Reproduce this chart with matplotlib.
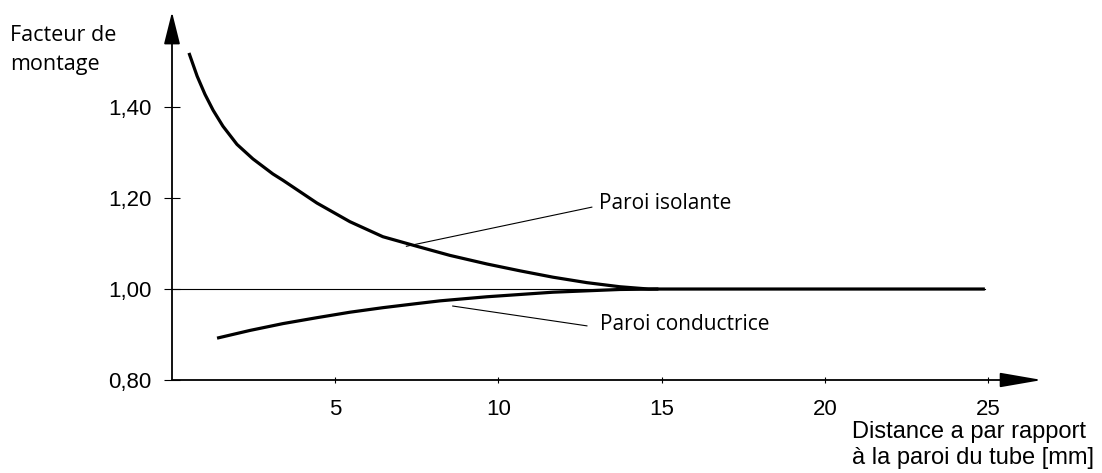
import matplotlib
matplotlib.use('Agg')
import matplotlib.pyplot as plt

# courbe "Paroi isolante"
x_iso = [0.52, 0.77, 1.01, 1.26, 1.56, 1.99, 2.48, 3.09, 3.40, 4.44, 5.45, 6.46, 7.50,
         8.51, 9.65, 10.66, 11.67, 12.71, 13.72, 14.6, 20.0, 24.9]
y_iso = [1.519, 1.468, 1.428, 1.393, 1.358, 1.318, 1.286, 1.253, 1.239, 1.189, 1.148, 1.115, 1.094,
         1.074, 1.055, 1.040, 1.026, 1.014, 1.005, 1.0, 1.0, 1.0]

# courbe "Paroi conductrice"
x_cond = [1.38, 2.39, 3.40, 4.44, 5.45, 6.46, 7.50, 8.21, 9.65, 11.67, 13.72, 14.9]
y_cond = [0.892, 0.909, 0.924, 0.937, 0.949, 0.959, 0.968, 0.974, 0.983, 0.993, 0.999, 1.0]

x_ticks = [5, 10, 15, 20, 25]
y_ticks = [0.80, 1.00, 1.20, 1.40]
y_labels = ['0,80', '1,00', '1,20', '1,40']

label_font = ['Open Sans', 'DejaVu Sans']
num_font = ['Liberation Sans', 'DejaVu Sans']

fig = plt.figure(figsize=(11.02, 4.73), dpi=100)
ax = fig.add_axes([172/1102, 93/473, 870/1102, 368/473])
ax.set_xlim(0, 26.65)
ax.set_ylim(0.8, 1.609)
for s in ax.spines.values():
    s.set_visible(False)

# axes avec fleches
ax.annotate('', xy=(26.65, 0.8), xytext=(0, 0.8),
            arrowprops=dict(arrowstyle='-|>,head_length=2.6,head_width=0.45',
                            lw=1.3, color='k', shrinkA=0, shrinkB=0), annotation_clip=False)
ax.annotate('', xy=(0, 1.609), xytext=(0, 0.8),
            arrowprops=dict(arrowstyle='-|>,head_length=2.0,head_width=0.5',
                            lw=1.3, color='k', shrinkA=0, shrinkB=0), annotation_clip=False)

ax.set_xticks(x_ticks)
ax.set_xticklabels([str(t) for t in x_ticks], family=num_font, fontsize=16)
ax.set_yticks(y_ticks)
ax.set_yticklabels(y_labels, family=num_font, fontsize=16)
ax.tick_params(axis='x', direction='inout', length=5, width=0.8, pad=11)
ax.tick_params(axis='y', direction='inout', length=12, width=0.8, pad=9)

# ligne de reference 1,00
ax.plot([0, 24.9], [1.0, 1.0], color='k', lw=0.8)

ax.plot(x_iso, y_iso, color='k', lw=2.3, solid_capstyle='butt', solid_joinstyle='round')
ax.plot(x_cond, y_cond, color='k', lw=2.3, solid_capstyle='butt', solid_joinstyle='round')

# annotations
ax.plot([7.18, 12.86], [1.094, 1.180], color='k', lw=0.8)
ax.text(13.08, 1.189, 'Paroi isolante', family=label_font, fontsize=15, va='center', ha='left')
ax.plot([8.6, 12.71], [0.9626, 0.919], color='k', lw=0.8)
ax.text(13.1, 0.921, 'Paroi conductrice', family=label_font, fontsize=15, va='center', ha='left')

fig.text(10/1102, 1 - 50/473, 'Facteur de\nmontage', family=label_font, fontsize=15.5,
         va='center', ha='left', linespacing=1.45)
fig.text(852/1102, 1 - 445/473, 'Distance a par rapport\nà la paroi du tube [mm]', family=num_font,
         fontsize=17, va='center', ha='left', linespacing=1.22)

fig.savefig('out.png', dpi=100)
